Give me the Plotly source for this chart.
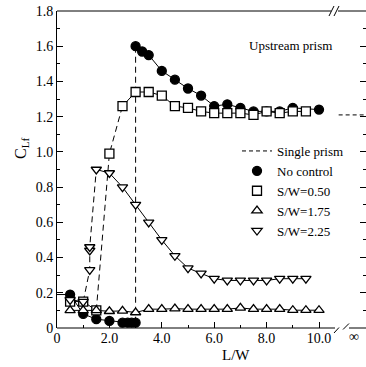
import plotly.graph_objects as go

# ---------------- data ----------------
# No control (filled circles)
nc_low_x = [0.5, 1.0, 1.5, 2.0, 2.5, 2.7, 2.85, 3.0]
nc_low_y = [0.19, 0.08, 0.05, 0.04, 0.03, 0.03, 0.03, 0.03]
nc_lead_x = [0.0, 0.5]
nc_lead_y = [0.19, 0.19]
nc_high_x = [3.0, 3.25, 3.5, 4.0, 4.5, 5.0, 5.5, 6.0, 6.5, 7.0, 7.5, 8.0, 8.5, 9.0, 10.0]
nc_high_y = [1.60, 1.57, 1.55, 1.46, 1.41, 1.36, 1.32, 1.26, 1.27, 1.25, 1.23, 1.23, 1.23, 1.25, 1.24]
jump_x = [3.0, 3.0]
jump_y = [0.03, 1.60]

# S/W = 0.50 (open squares)
sq_low_x = [0.5, 1.0, 1.5]
sq_low_y = [0.15, 0.15, 0.10]
sq_mid_x = [1.5, 2.0, 2.5]
sq_mid_y = [0.10, 0.99, 1.26]
sq_high_x = [2.5, 3.0, 3.5, 4.0, 4.5, 5.0, 5.5, 6.0, 6.5, 7.0, 7.5, 8.0, 8.5, 9.0, 9.5]
sq_high_y = [1.26, 1.34, 1.34, 1.32, 1.26, 1.25, 1.23, 1.22, 1.22, 1.22, 1.21, 1.23, 1.22, 1.23, 1.23]

# S/W = 1.75 (open up-triangles)
tu_x = [0.5, 1.0, 1.5, 2.0, 2.5, 3.0, 3.5, 4.0, 4.5, 5.0, 5.5, 6.0, 6.5, 7.0, 7.5, 8.0, 8.5, 9.0, 9.5, 10.0]
tu_y = [0.10, 0.10, 0.10, 0.095, 0.097, 0.088, 0.107, 0.107, 0.11, 0.107, 0.107, 0.107, 0.107, 0.114,
        0.107, 0.107, 0.107, 0.101, 0.101, 0.101]

# S/W = 2.25 (open down-triangles)
td_low_x = [0.5, 1.0]
td_low_y = [0.16, 0.15]
td_mid_x = [1.0, 1.25, 1.25, 1.25, 1.5]
td_mid_y = [0.15, 0.33, 0.44, 0.46, 0.90]
td_high_x = [1.5, 2.0, 2.5, 3.0, 3.5, 4.0, 4.5, 5.0, 5.5, 6.0, 6.5, 7.0, 7.5, 8.0, 8.5, 9.0, 9.5]
td_high_y = [0.90, 0.88, 0.80, 0.70, 0.60, 0.50, 0.41, 0.34, 0.31, 0.28, 0.27, 0.27, 0.27, 0.27, 0.28, 0.28, 0.28]

# Single prism (value at L/W = infinity)
single_x = [10.75, 11.9]
single_y = [1.21, 1.21]

x_tickvals = [0, 2, 4, 6, 8, 10]
x_ticktext = ["0", "2.0", "4.0", "6.0", "8.0", "10.0"]
y_tickvals = [0, 0.2, 0.4, 0.6, 0.8, 1.0, 1.2, 1.4, 1.6, 1.8]
y_ticktext = ["0", "0.2", "0.4", "0.6", "0.8", "1.0", "1.2", "1.4", "1.6", "1.8"]

# ---------------- figure ----------------
W, H = 366, 367
ML, MR, MT, MB = 57, 0, 11, 39
PW, PH = W - ML - MR, H - MT - MB
XMAX = PW / 26.2

FONT = "Liberation Serif, Times New Roman, serif"
BLK = "black"

def px(x):
    return (x - ML) / PW

def py(y):
    return (H - MB - y) / PH

fig = go.Figure()

def line(x, y, dash="solid"):
    fig.add_trace(go.Scatter(x=x, y=y, mode="lines", showlegend=False, hoverinfo="skip",
                             line=dict(color=BLK, width=1, dash=dash)))

DASH = "6px,4px"
line(nc_lead_x, nc_lead_y)
line(nc_low_x, nc_low_y)
line(nc_high_x, nc_high_y)
line(jump_x, jump_y, DASH)
line(sq_low_x, sq_low_y)
line(sq_mid_x, sq_mid_y, DASH)
line(sq_high_x, sq_high_y)
line(tu_x, tu_y)
line(td_low_x, td_low_y)
line(td_mid_x, td_mid_y, DASH)
line(td_high_x, td_high_y)

fig.add_trace(go.Scatter(x=single_x, y=single_y, mode="lines", name="Single prism",
                         line=dict(color=BLK, width=1, dash="4px,3px")))

def marks(x, y, symbol, name, fill, size):
    fig.add_trace(go.Scatter(x=x, y=y, mode="markers", name=name,
                             marker=dict(symbol=symbol, size=size, color=fill,
                                         line=dict(color=BLK, width=1.3))))

marks(nc_low_x + nc_high_x, nc_low_y + nc_high_y, "circle", "No control", BLK, 9)
marks(sq_low_x + sq_mid_x[1:] + sq_high_x[1:], sq_low_y + sq_mid_y[1:] + sq_high_y[1:],
      "square", "S/W=0.50", "white", 9)
marks(tu_x, tu_y, "triangle-up", "S/W=1.75", "white", 9)
marks(td_low_x + td_mid_x[1:] + td_high_x[1:], td_low_y + td_mid_y[1:] + td_high_y[1:],
      "triangle-down", "S/W=2.25", "white", 9)

shapes = []
def seg(x0, y0, x1, y1):
    shapes.append(dict(type="line", xref="paper", yref="paper",
                       x0=px(x0), y0=py(y0), x1=px(x1), y1=py(y1),
                       line=dict(color=BLK, width=1)))

# top frame with break
seg(57, 11, 331, 11)
seg(338, 11, 366, 11)
seg(329, 16, 334, 6)
seg(334, 16, 339, 6)
# bottom axis with break
seg(57, 328, 335, 328)
seg(349, 328, 366, 328)
seg(334, 333, 339, 327.5)
seg(343, 329.5, 349, 323.5)

def ann(text, x, y, size, **kw):
    return dict(text=text, x=px(x), y=py(y), xref="paper", yref="paper",
                xanchor="center", yanchor="middle", showarrow=False,
                font=dict(family=FONT, size=size, color=BLK), **kw)

annotations = [
    ann("Upstream prism", 290, 45, 13),
    ann("∞", 354, 336, 14),
    ann("L/W", 236, 355, 15),
    ann("C<sub>Lf</sub>", 21, 148, 16, textangle=-90),
]

fig.update_layout(
    width=W, height=H,
    margin=dict(l=ML, r=MR, t=MT, b=MB, pad=0),
    paper_bgcolor="white", plot_bgcolor="white",
    font=dict(family=FONT, size=13, color=BLK),
    shapes=shapes, annotations=annotations,
    legend=dict(x=px(237), y=py(136), xanchor="left", yanchor="top",
                bgcolor="rgba(0,0,0,0)", font=dict(family=FONT, size=13, color=BLK),
                tracegroupgap=0, itemwidth=30),
    xaxis=dict(range=[0, XMAX], showgrid=False, zeroline=False, showline=False,
               tickvals=x_tickvals, ticktext=x_ticktext, ticks="inside", ticklen=6,
               tickcolor=BLK, tickfont=dict(family=FONT, size=14, color=BLK),
               minor=dict(tickvals=[1, 3, 5, 7, 9], ticks="inside", ticklen=3, tickcolor=BLK)),
    yaxis=dict(range=[0, 1.8], showgrid=False, zeroline=False, showline=True, linecolor=BLK,
               linewidth=1, mirror="ticks",
               tickvals=y_tickvals, ticktext=y_ticktext, ticks="inside", ticklen=6,
               tickcolor=BLK, tickfont=dict(family=FONT, size=14, color=BLK),
               minor=dict(dtick=0.1, ticks="inside", ticklen=3, tickcolor=BLK)),
)

fig.write_html("out.html", config={"displayModeBar": False},
               post_script="document.body.style.margin='0px';")
